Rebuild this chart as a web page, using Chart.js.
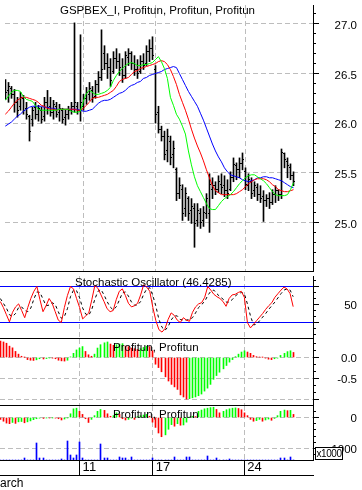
<!DOCTYPE html>
<html>
<head>
<meta charset="utf-8">
<title>GSPBEX_I</title>
<script src="https://cdn.jsdelivr.net/npm/chart.js@4.4.1/dist/chart.umd.min.js"></script>
<style>
  html, body { margin:0; padding:0; background:#fff; }
  #wrap { position:relative; width:362px; height:490px; overflow:hidden; background:#fff; }
  #wrap canvas { position:absolute; left:0; }
  .t { position:absolute; font-family:'Liberation Sans', Arial, sans-serif; font-size:11.5px; line-height:1; color:#000; white-space:nowrap; }
  #mult { position:absolute; left:315px; top:447px; width:26px; height:11px; border:1px solid #000; background:#fff;
          font-family:'Liberation Sans', Arial, sans-serif; font-size:10px; line-height:11px; text-align:center; letter-spacing:-0.4px; }
</style>
</head>
<body>
<div id="wrap">
  <canvas id="cPrice" width="362" height="276" style="top:0px;width:362px;height:276px"></canvas>
  <canvas id="cStoch" width="362" height="63" style="top:276px;width:362px;height:63px"></canvas>
  <canvas id="cMacd" width="362" height="67" style="top:339px;width:362px;height:67px"></canvas>
  <canvas id="cOsc" width="362" height="84" style="top:406px;width:362px;height:84px"></canvas>
  <div class="t" style="left:60px;top:5px">GSPBEX_I, Profitun, Profitun, Profitun</div>
  <div class="t" style="left:75px;top:277px">Stochastic Oscillator (46.4285)</div>
  <div class="t" style="left:113px;top:342px">Profitun, Profitun</div>
  <div class="t" style="left:113px;top:409px">Profitun, Profitun</div>
  <div class="t" style="left:-10px;top:477px;font-size:12px">March</div>
  <div id="mult">x1000</div>
</div>
<script>
// ---------- data (one entry per bar) ----------
const high = [26.44,26.41,26.37,26.34,26.26,26.31,26.28,26.21,26.08,26.16,
  26.21,26.18,26.16,26.26,26.33,26.26,26.23,26.21,26.19,26.15,
  26.13,26.17,26.21,27.01,26.21,26.89,26.29,26.36,26.41,26.37,
  26.43,26.52,26.94,26.78,26.70,26.65,26.72,26.75,26.70,26.65,
  26.72,26.75,26.72,26.68,26.64,26.68,26.70,26.78,26.84,26.87,
  26.58,26.17,25.97,25.92,25.94,25.87,25.82,25.55,25.45,25.38,
  25.35,25.26,25.24,25.19,25.19,25.14,25.16,25.29,25.49,25.45,
  25.41,25.47,25.49,25.47,25.43,25.51,25.65,25.60,25.65,25.70,
  25.55,25.49,25.45,25.41,25.39,25.37,25.32,25.28,25.30,25.33,
  25.37,25.33,25.74,25.70,25.65,25.59,25.51];
const low = [26.24,26.21,26.25,26.11,26.06,26.13,26.09,26.04,25.82,25.97,
  26.04,26.02,26.00,26.02,26.09,26.07,26.04,26.06,26.02,26.00,
  25.98,26.04,26.09,26.11,26.09,26.02,26.13,26.19,26.23,26.21,
  26.25,26.31,26.43,26.54,26.45,26.37,26.50,26.55,26.48,26.41,
  26.45,26.58,26.54,26.48,26.45,26.50,26.54,26.58,26.62,26.64,
  26.00,25.90,25.82,25.63,25.61,25.58,25.55,25.22,25.24,25.02,
  25.06,25.02,24.99,24.75,24.96,24.94,24.96,25.04,24.90,25.24,
  25.28,25.30,25.29,25.26,25.24,25.32,25.41,25.43,25.45,25.53,
  25.33,25.32,25.24,25.26,25.22,25.20,25.01,25.16,25.14,25.18,
  25.20,25.22,25.24,25.55,25.45,25.43,25.37];
const open = [26.36,26.33,26.35,26.29,26.21,26.17,26.25,26.15,26.07,26.04,
  26.16,26.09,26.13,26.07,26.21,26.17,26.11,26.17,26.11,26.13,
  26.06,26.09,26.13,26.17,26.17,26.13,26.17,26.25,26.29,26.33,
  26.27,26.39,26.46,26.70,26.60,26.56,26.52,26.65,26.62,26.54,
  26.48,26.66,26.70,26.60,26.54,26.52,26.62,26.60,26.72,26.75,
  26.54,26.11,25.94,25.87,25.72,25.82,25.68,25.53,25.29,25.33,
  25.14,25.24,25.12,25.14,25.02,25.09,25.02,25.09,25.09,25.33,
  25.37,25.33,25.38,25.37,25.32,25.33,25.45,25.57,25.53,25.59,
  25.51,25.37,25.41,25.32,25.35,25.28,25.26,25.22,25.24,25.20,
  25.28,25.32,25.28,25.69,25.61,25.55,25.47];
const close = [26.31,26.37,26.29,26.21,26.13,26.26,26.13,26.09,25.92,26.13,
  26.09,26.15,26.04,26.21,26.16,26.11,26.19,26.09,26.15,26.04,
  26.09,26.13,26.17,26.21,26.13,26.21,26.25,26.31,26.35,26.26,
  26.39,26.46,26.54,26.60,26.56,26.43,26.65,26.62,26.56,26.48,
  26.68,26.70,26.60,26.54,26.50,26.62,26.58,26.72,26.75,26.68,
  26.09,25.94,25.87,25.68,25.87,25.65,25.74,25.29,25.37,25.09,
  25.29,25.09,25.16,24.99,25.12,25.00,25.10,25.24,25.38,25.37,
  25.33,25.41,25.35,25.32,25.29,25.45,25.58,25.53,25.59,25.63,
  25.38,25.43,25.29,25.37,25.28,25.24,25.22,25.24,25.20,25.28,
  25.32,25.28,25.70,25.63,25.57,25.47,25.41];
const maFast = [26.23,26.27,26.31,26.33,26.33,26.32,26.27,26.24,26.23,26.22,
  26.18,26.14,26.13,26.13,26.13,26.13,26.13,26.13,26.14,26.14,
  26.14,26.14,26.12,26.11,26.11,26.12,26.22,26.30,26.33,26.31,
  26.29,26.29,26.30,26.31,26.33,26.36,26.43,26.48,26.52,26.55,
  26.58,26.60,26.61,26.60,26.58,26.58,26.59,26.59,26.60,26.61,
  26.64,26.67,26.62,26.55,26.45,26.26,26.18,26.09,26.04,25.97,
  25.89,25.72,25.58,25.46,25.37,25.31,25.25,25.19,25.14,25.13,
  25.13,25.17,25.21,25.24,25.26,25.28,25.31,25.35,25.39,25.42,
  25.45,25.47,25.48,25.48,25.46,25.44,25.42,25.39,25.35,25.31,
  25.28,25.27,25.27,25.27,25.28,25.33,25.40];
const maMid = [26.09,26.12,26.16,26.20,26.23,26.25,26.26,26.26,26.25,26.24,
  26.23,26.21,26.18,26.17,26.15,26.14,26.14,26.13,26.14,26.14,
  26.14,26.14,26.14,26.14,26.13,26.13,26.15,26.18,26.21,26.25,
  26.26,26.26,26.27,26.28,26.29,26.31,26.33,26.37,26.42,26.44,
  26.45,26.46,26.49,26.52,26.53,26.55,26.56,26.57,26.58,26.59,
  26.60,26.62,26.63,26.62,26.59,26.54,26.47,26.39,26.29,26.21,
  26.13,26.04,25.94,25.85,25.77,25.70,25.62,25.53,25.45,25.37,
  25.32,25.30,25.28,25.28,25.28,25.28,25.28,25.29,25.31,25.33,
  25.36,25.39,25.41,25.43,25.44,25.44,25.44,25.43,25.41,25.38,
  25.36,25.33,25.32,25.31,25.31,25.32,25.33];
const maSlow = [25.97,25.99,26.01,26.04,26.07,26.09,26.12,26.14,26.16,26.17,
  26.17,26.17,26.17,26.16,26.16,26.15,26.15,26.14,26.14,26.14,
  26.14,26.14,26.14,26.14,26.14,26.13,26.12,26.12,26.13,26.14,
  26.17,26.20,26.22,26.23,26.23,26.24,26.26,26.28,26.30,26.31,
  26.33,26.36,26.38,26.39,26.41,26.42,26.45,26.46,26.48,26.49,
  26.50,26.51,26.52,26.54,26.55,26.56,26.57,26.56,26.50,26.44,
  26.38,26.32,26.27,26.22,26.17,26.10,26.03,25.95,25.87,25.79,
  25.72,25.66,25.61,25.55,25.51,25.48,25.47,25.46,25.45,25.43,
  25.42,25.41,25.42,25.43,25.45,25.45,25.46,25.46,25.45,25.45,
  25.44,25.43,25.42,25.40,25.38,25.36,25.35];
const stochK = [55,45,33,21,37,46,51,40,28,45,
  60,72,80,58,38,48,60,52,38,24,
  20,45,65,80,76,60,45,26,31,36,
  58,82,77,66,55,43,38,40,58,72,
  76,65,52,46,48,52,66,83,79,72,
  45,23,8,4,10,25,36,32,24,20,
  28,24,22,37,46,51,53,62,80,74,
  67,63,60,55,47,60,66,67,70,72,
  62,20,11,17,23,29,35,42,48,53,
  62,68,74,79,76,68,46.43];
const stochD = [60,52,44,33,30,35,45,46,40,38,
  44,59,71,70,59,48,49,53,50,38,
  27,30,43,63,74,73,61,44,34,32,
  42,59,72,75,66,55,46,41,46,57,
  69,71,64,54,49,49,55,67,76,78,
  65,47,25,12,7,13,24,31,31,25,
  24,24,25,28,36,45,50,55,65,72,
  74,68,63,59,54,54,58,64,68,70,
  68,51,31,16,17,23,29,35,42,48,
  54,61,68,74,76,74,63];
const macdHist = [0.39,0.37,0.34,0.27,0.23,0.145,0.08,0.03,0.005,-0.05,
  -0.065,-0.07,-0.055,-0.03,-0.035,-0.025,-0.01,-0.015,-0.03,-0.065,
  -0.08,-0.085,-0.065,0.015,0.1,0.18,0.225,0.26,0.145,0.065,
  0.03,0.08,0.225,0.305,0.35,0.37,0.32,0.29,0.305,0.32,
  0.33,0.27,0.26,0.225,0.21,0.19,0.21,0.24,0.27,0.26,
  0.16,-0.16,-0.24,-0.34,-0.46,-0.56,-0.64,-0.70,-0.76,-0.89,
  -0.94,-0.99,-0.98,-0.96,-0.94,-0.91,-0.87,-0.80,-0.73,-0.64,
  -0.52,-0.43,-0.35,-0.27,-0.19,-0.11,-0.05,0.02,0.08,0.13,
  0.16,0.13,0.10,0.05,0.02,0.01,0.005,-0.015,-0.04,-0.05,
  -0.03,-0.015,0.05,0.10,0.14,0.16,0.12];
const oscHist = [-60,-120,-180,-200,-160,-190,-140,-130,-170,-140,
  -110,-70,-40,-20,-30,-10,-15,-10,-20,-40,
  -80,-50,-10,120,280,300,200,100,-40,-160,
  -60,60,200,260,230,120,40,60,150,100,
  -40,-80,-60,-20,-60,30,60,80,100,40,
  -150,-320,-500,-620,-560,-380,-230,-280,-200,-250,
  -240,-150,10,40,30,200,240,280,300,320,
  330,260,150,200,250,280,300,310,290,250,
  150,60,-60,-120,-100,-60,-120,-80,-50,-90,
  -30,60,200,240,220,230,100];
const volume = [0,0,0,0,0,0,0,0,200,0,
  0,0,1700,200,200,0,0,0,0,0,
  100,0,1900,500,200,500,1800,200,0,0,
  0,0,0,1600,200,200,0,0,0,300,
  200,200,0,300,0,0,0,0,0,0,
  200,0,0,0,0,0,0,300,0,0,
  0,300,300,0,0,0,0,0,400,0,
  0,200,0,0,0,100,0,0,0,0,
  0,0,0,0,0,0,0,0,0,0,
  0,0,200,200,0,300,0];
const dayTickIndex = [26, 50, 80];
const dayTickLabels = ['11', '17', '24'];
const priceLabels = [25.0, 25.5, 26.0, 26.5, 27.0];
const stochBands = [20, 80];
const stochLabels = [50];
const macdGrid = [0, -0.5, -1.0];
const macdLabels = [0, -0.5];
const oscGrid = [0, -1000];
const oscLabels = [0, -1000];

// ---------- styling / helpers ----------
Chart.defaults.font.family = "'Liberation Sans', Arial, sans-serif";
Chart.defaults.font.size = 11.5;
Chart.defaults.color = '#000';
const GREEN = '#00ff00', RED = '#ff0000', BLUE = '#0000ff', GRID = '#bdbdbd';
const near = (a, b) => Math.abs(a - b) < 1e-6;
const inList = (list, v) => list.some(a => near(a, v));
const pts = arr => arr.map((v, i) => ({x: i, y: v}));
const upDown = arr => arr.map((v, i) => (i > 0 && v > arr[i - 1]) ? GREEN : RED);

function xAxis(withLabels) {
  return {
    type: 'linear', min: -0.1, max: 102.5, offset: false,
    afterBuildTicks: s => { s.ticks = dayTickIndex.map(v => ({value: v})); },
    afterFit: s => { s.height = withLabels ? 30 : 0; s.paddingLeft = 0; s.paddingRight = 0; },
    grid: { display: true, drawOnChartArea: true, drawTicks: withLabels, tickLength: 15, offset: false,
            color: GRID, lineWidth: 1, tickColor: '#000', tickWidth: 1 },
    border: { display: withLabels, color: '#000', width: 1, dash: c => (c.tick ? [5, 3] : []) },
    ticks: { display: withLabels, autoSkip: false, maxRotation: 0, minRotation: 0, align: 'start',
             labelOffset: 3, padding: -15, font: {size: 13}, color: '#000',
             callback: v => { const k = dayTickIndex.indexOf(v); return k >= 0 ? dayTickLabels[k] : ''; } }
  };
}
function yAxis(o) {
  return {
    type: 'linear', position: 'right', min: o.min, max: o.max,
    afterFit: s => { s.width = 44; s.paddingTop = 0; s.paddingBottom = 0; },
    afterBuildTicks: s => {
      const t = [];
      for (let k = Math.ceil(o.min / o.step - 1e-9); k * o.step <= o.max + 1e-9; k++) {
        t.push({value: Math.round(k * o.step * 1e6) / 1e6});
      }
      s.ticks = t;
    },
    grid: { drawOnChartArea: true, drawTicks: true, tickLength: 3, lineWidth: 1,
            color: c => (c.tick && inList(o.gridVals, c.tick.value)) ? o.gridColor : 'rgba(0,0,0,0)',
            tickColor: '#000', tickWidth: 1 },
    border: { display: true, color: '#000', width: 1, dash: c => (c.tick ? o.dash : []) },
    ticks: { autoSkip: false, mirror: true, padding: 44, labelOffset: o.labelOffset, color: '#000',
             callback: v => inList(o.labelVals, v) ? o.fmt(v) : '' }
  };
}
// panel separator lines, x-axis box line, and longer marks for the major y ticks
function panelLines(extra, majors) {
  return {
    id: 'panelLines',
    afterDraw(chart) {
      const {ctx, chartArea: a} = chart;
      const ys = chart.scales.y;
      ctx.save();
      ctx.fillStyle = '#000';
      const b = Math.round(a.bottom);
      ctx.fillRect(0, b, Math.round(a.right) + 1, 1);
      if (extra) ctx.fillRect(0, b + 15, Math.round(a.right) + 1, 1);
      majors.forEach(v => {
        const p = ys.getPixelForValue(v);
        if (p >= a.top && p <= a.bottom) ctx.fillRect(Math.round(a.right) + 1, Math.floor(p), 5, 1);
      });
      ctx.restore();
    }
  };
}
// keep 1px bars and open/close ticks on whole device pixels (positions still come from the scales)
const snapPlugin = {
  id: 'snap',
  afterDatasetsUpdate(chart) {
    chart.data.datasets.forEach((ds, di) => {
      const meta = chart.getDatasetMeta(di);
      if (ds.type === 'bar') {
        meta.data.forEach(el => { el.x = Math.floor(el.x) + 0.5; });
      } else if (ds.label === 'open' || ds.label === 'close') {
        const dx = ds.label === 'open' ? -1 : 1;
        meta.data.forEach(el => { el.x = Math.floor(el.x) + 0.5 + dx; el.y = Math.floor(el.y) + 0.5; });
      }
    });
  }
};
function make(id, datasets, scales, bottomPad, extra, majors) {
  return new Chart(document.getElementById(id), {
    type: 'bar',
    data: { datasets },
    options: {
      responsive: false, animation: false, devicePixelRatio: 1, events: [],
      layout: { padding: { left: 0, right: 5, top: 0, bottom: bottomPad } },
      plugins: { legend: { display: false }, tooltip: { enabled: false } },
      scales
    },
    plugins: [snapPlugin, panelLines(extra, majors)]
  });
}
const lineDs = (arr, color, order, dash) => ({
  type: 'line', data: pts(arr), borderColor: color, borderWidth: 1, borderDash: dash || [],
  pointRadius: 0, tension: 0, order
});
const tickDs = (arr, name) => ({
  type: 'line', label: name, data: pts(arr), showLine: false,
  pointStyle: 'line', pointRadius: 0.5, pointBorderColor: '#000', pointBorderWidth: 1,
  borderColor: '#000', order: 3
});

// ---------- price panel ----------
make('cPrice', [
  lineDs(maFast, GREEN, 0),
  lineDs(maMid, RED, 1),
  lineDs(maSlow, BLUE, 2),
  { type: 'bar', data: high.map((h, i) => ({x: i, y: [low[i], h]})), backgroundColor: '#000',
    barThickness: 1, grouped: false, order: 3 },
  tickDs(open, 'open'),
  tickDs(close, 'close')
], {
  x: xAxis(false),
  y: yAxis({ min: 24.511, max: 27.19, step: 0.1, gridVals: priceLabels, gridColor: GRID, dash: [5, 3],
             labelVals: priceLabels, fmt: v => v.toFixed(1), labelOffset: 2 })
}, 1, false, priceLabels);

// ---------- stochastic panel ----------
make('cStoch', [
  lineDs(stochK, RED, 0),
  lineDs(stochD, '#000', 1, [3, 3])
], {
  x: xAxis(false),
  y: yAxis({ min: -5.83, max: 97.5, step: 10, gridVals: stochBands, gridColor: BLUE, dash: [],
             labelVals: stochLabels, fmt: v => String(v), labelOffset: 1 })
}, 1, false, stochBands.concat(stochLabels));

// ---------- MACD histogram panel ----------
make('cMacd', [
  { type: 'bar', data: pts(macdHist), backgroundColor: upDown(macdHist), barThickness: 1, grouped: false }
], {
  x: xAxis(false),
  y: yAxis({ min: -1.131, max: 0.4405, step: 1 / 6, gridVals: macdGrid, gridColor: GRID, dash: [5, 3],
             labelVals: macdLabels, fmt: v => v.toFixed(1), labelOffset: 1 })
}, 1, false, macdGrid);

// ---------- oscillator + volume panel ----------
make('cOsc', [
  { type: 'bar', data: pts(oscHist), backgroundColor: upDown(oscHist), barThickness: 1, grouped: false, yAxisID: 'y' },
  { type: 'bar', data: pts(volume), backgroundColor: BLUE, barThickness: 1, grouped: false, yAxisID: 'yv' }
], {
  x: xAxis(true),
  y: yAxis({ min: -1371, max: 371, step: 200, gridVals: oscGrid, gridColor: GRID, dash: [5, 3],
             labelVals: oscLabels, fmt: v => String(Math.round(v)), labelOffset: 1 }),
  yv: { type: 'linear', display: false, min: 0, max: 5400 }
}, 0, true, oscGrid);
</script>
</body>
</html>
